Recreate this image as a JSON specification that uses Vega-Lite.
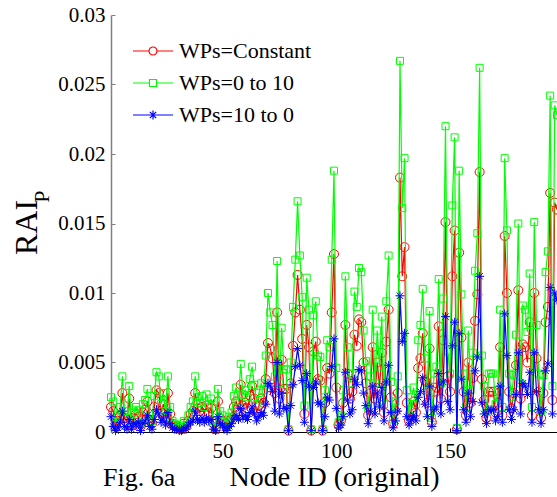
{
"$schema":"https://vega.github.io/schema/vega-lite/v6.json",
"width":446,"height":417,
"autosize":{"type":"none"},
"padding":{"left":111,"top":15,"right":0,"bottom":65},
"config":{"view":{"stroke":null},"font":"Liberation Serif","axis":{"labelFont":"Liberation Serif","titleFont":"Liberation Serif"},"legend":{"labelFont":"Liberation Serif"}},
"title":{"text":"Fig. 6a","orient":"bottom","anchor":"start","frame":"group","fontSize":26,"font":"Liberation Serif","fontWeight":"normal","color":"black","dx":-8,"offset":-26},
"data":{"values":[
{"n":1,"g":0.0025,"r":0.0018,"b":0.0011},{"n":2,"g":0.0022,"r":0.0015,"b":0.0004},{"n":3,"g":0.0006,"r":0.0004,"b":0.0001},{"n":4,"g":0.0012,"r":0.0008,"b":0.0003},{"n":5,"g":0.0018,"r":0.0012,"b":0.0007},{"n":6,"g":0.0040,"r":0.0028,"b":0.0015},{"n":7,"g":0.0015,"r":0.0010,"b":0.0004},{"n":8,"g":0.0010,"r":0.0007,"b":0.0002},{"n":9,"g":0.0033,"r":0.0024,"b":0.0009},{"n":10,"g":0.0008,"r":0.0005,"b":0.0002},
{"n":11,"g":0.0014,"r":0.0010,"b":0.0006},{"n":12,"g":0.0018,"r":0.0013,"b":0.0005},{"n":13,"g":0.0016,"r":0.0011,"b":0.0007},{"n":14,"g":0.0006,"r":0.0004,"b":0.0001},{"n":15,"g":0.0020,"r":0.0014,"b":0.0006},{"n":16,"g":0.0023,"r":0.0016,"b":0.0008},{"n":17,"g":0.0031,"r":0.0022,"b":0.0012},{"n":18,"g":0.0012,"r":0.0008,"b":0.0004},{"n":19,"g":0.0008,"r":0.0006,"b":0.0002},{"n":20,"g":0.0026,"r":0.0018,"b":0.0009},
{"n":21,"g":0.0043,"r":0.0030,"b":0.0016},{"n":22,"g":0.0040,"r":0.0028,"b":0.0013},{"n":23,"g":0.0020,"r":0.0014,"b":0.0007},{"n":24,"g":0.0028,"r":0.0020,"b":0.0010},{"n":25,"g":0.0015,"r":0.0010,"b":0.0005},{"n":26,"g":0.0040,"r":0.0028,"b":0.0014},{"n":27,"g":0.0018,"r":0.0013,"b":0.0006},{"n":28,"g":0.0008,"r":0.0006,"b":0.0003},{"n":29,"g":0.0006,"r":0.0004,"b":0.0002},{"n":30,"g":0.0005,"r":0.0004,"b":0.0002},
{"n":31,"g":0.0004,"r":0.0003,"b":0.0001},{"n":32,"g":0.0003,"r":0.0002,"b":0.0001},{"n":33,"g":0.0008,"r":0.0006,"b":0.0003},{"n":34,"g":0.0005,"r":0.0004,"b":0.0002},{"n":35,"g":0.0012,"r":0.0008,"b":0.0005},{"n":36,"g":0.0018,"r":0.0013,"b":0.0007},{"n":37,"g":0.0022,"r":0.0015,"b":0.0008},{"n":38,"g":0.0040,"r":0.0028,"b":0.0015},{"n":39,"g":0.0025,"r":0.0017,"b":0.0009},{"n":40,"g":0.0021,"r":0.0015,"b":0.0007},
{"n":41,"g":0.0026,"r":0.0018,"b":0.0010},{"n":42,"g":0.0018,"r":0.0013,"b":0.0007},{"n":43,"g":0.0027,"r":0.0019,"b":0.0010},{"n":44,"g":0.0020,"r":0.0014,"b":0.0008},{"n":45,"g":0.0024,"r":0.0017,"b":0.0009},{"n":46,"g":0.0008,"r":0.0006,"b":0.0002},{"n":47,"g":0.0003,"r":0.0002,"b":0.0001},{"n":48,"g":0.0031,"r":0.0022,"b":0.0011},{"n":49,"g":0.0015,"r":0.0010,"b":0.0006},{"n":50,"g":0.0012,"r":0.0008,"b":0.0005},
{"n":51,"g":0.0008,"r":0.0006,"b":0.0003},{"n":52,"g":0.0005,"r":0.0004,"b":0.0001},{"n":53,"g":0.0011,"r":0.0008,"b":0.0004},{"n":54,"g":0.0014,"r":0.0010,"b":0.0006},{"n":55,"g":0.0026,"r":0.0018,"b":0.0010},{"n":56,"g":0.0032,"r":0.0022,"b":0.0012},{"n":57,"g":0.0022,"r":0.0015,"b":0.0009},{"n":58,"g":0.0049,"r":0.0034,"b":0.0017},{"n":59,"g":0.0027,"r":0.0019,"b":0.0010},{"n":60,"g":0.0030,"r":0.0021,"b":0.0012},
{"n":61,"g":0.0025,"r":0.0017,"b":0.0009},{"n":62,"g":0.0038,"r":0.0026,"b":0.0014},{"n":63,"g":0.0047,"r":0.0033,"b":0.0018},{"n":64,"g":0.0034,"r":0.0024,"b":0.0013},{"n":65,"g":0.0020,"r":0.0014,"b":0.0008},{"n":66,"g":0.0028,"r":0.0019,"b":0.0011},{"n":67,"g":0.0035,"r":0.0024,"b":0.0014},{"n":68,"g":0.0030,"r":0.0021,"b":0.0012},{"n":69,"g":0.0055,"r":0.0038,"b":0.0020},{"n":70,"g":0.0100,"r":0.0064,"b":0.0035},
{"n":71,"g":0.0086,"r":0.0060,"b":0.0033},{"n":72,"g":0.0077,"r":0.0053,"b":0.0029},{"n":73,"g":0.0040,"r":0.0028,"b":0.0015},{"n":74,"g":0.0123,"r":0.0086,"b":0.0050},{"n":75,"g":0.0035,"r":0.0024,"b":0.0013},{"n":76,"g":0.0075,"r":0.0052,"b":0.0028},{"n":77,"g":0.0045,"r":0.0031,"b":0.0017},{"n":78,"g":0.0045,"r":0.0031,"b":0.0017},{"n":79,"g":0.0002,"r":0.0001,"b":0.0001},{"n":80,"g":0.0050,"r":0.0035,"b":0.0019},
{"n":81,"g":0.0090,"r":0.0062,"b":0.0034},{"n":82,"g":0.0124,"r":0.0086,"b":0.0047},{"n":83,"g":0.0166,"r":0.0113,"b":0.0060},{"n":84,"g":0.0127,"r":0.0088,"b":0.0048},{"n":85,"g":0.0097,"r":0.0067,"b":0.0037},{"n":86,"g":0.0019,"r":0.0013,"b":0.0007},{"n":87,"g":0.0111,"r":0.0077,"b":0.0042},{"n":88,"g":0.0088,"r":0.0061,"b":0.0033},{"n":89,"g":0.0002,"r":0.0001,"b":0.0001},{"n":90,"g":0.0084,"r":0.0058,"b":0.0032},
{"n":91,"g":0.0094,"r":0.0065,"b":0.0036},{"n":92,"g":0.0055,"r":0.0038,"b":0.0021},{"n":93,"g":0.0054,"r":0.0037,"b":0.0020},{"n":94,"g":0.0002,"r":0.0001,"b":0.0001},{"n":95,"g":0.0030,"r":0.0021,"b":0.0011},{"n":96,"g":0.0066,"r":0.0046,"b":0.0025},{"n":97,"g":0.0061,"r":0.0042,"b":0.0023},{"n":98,"g":0.0124,"r":0.0086,"b":0.0047},{"n":99,"g":0.0188,"r":0.0128,"b":0.0067},{"n":100,"g":0.0046,"r":0.0032,"b":0.0017},
{"n":101,"g":0.0007,"r":0.0005,"b":0.0003},{"n":102,"g":0.0012,"r":0.0008,"b":0.0005},{"n":103,"g":0.0030,"r":0.0021,"b":0.0011},{"n":104,"g":0.0112,"r":0.0077,"b":0.0043},{"n":105,"g":0.0061,"r":0.0042,"b":0.0023},{"n":106,"g":0.0035,"r":0.0024,"b":0.0013},{"n":107,"g":0.0042,"r":0.0029,"b":0.0016},{"n":108,"g":0.0101,"r":0.0070,"b":0.0038},{"n":109,"g":0.0090,"r":0.0062,"b":0.0034},{"n":110,"g":0.0118,"r":0.0081,"b":0.0045},
{"n":111,"g":0.0115,"r":0.0079,"b":0.0044},{"n":112,"g":0.0073,"r":0.0050,"b":0.0028},{"n":113,"g":0.0051,"r":0.0035,"b":0.0019},{"n":114,"g":0.0017,"r":0.0012,"b":0.0006},{"n":115,"g":0.0040,"r":0.0028,"b":0.0015},{"n":116,"g":0.0088,"r":0.0061,"b":0.0033},{"n":117,"g":0.0035,"r":0.0024,"b":0.0013},{"n":118,"g":0.0073,"r":0.0050,"b":0.0028},{"n":119,"g":0.0047,"r":0.0032,"b":0.0018},{"n":120,"g":0.0083,"r":0.0057,"b":0.0032},
{"n":121,"g":0.0020,"r":0.0014,"b":0.0008},{"n":122,"g":0.0094,"r":0.0065,"b":0.0036},{"n":123,"g":0.0127,"r":0.0088,"b":0.0048},{"n":124,"g":0.0036,"r":0.0025,"b":0.0014},{"n":125,"g":0.0009,"r":0.0006,"b":0.0003},{"n":126,"g":0.0022,"r":0.0015,"b":0.0008},{"n":127,"g":0.0040,"r":0.0028,"b":0.0015},{"n":128,"g":0.0267,"r":0.0183,"b":0.0098},{"n":129,"g":0.0161,"r":0.0112,"b":0.0065},{"n":130,"g":0.0197,"r":0.0133,"b":0.0071},
{"n":131,"g":0.0030,"r":0.0021,"b":0.0011},{"n":132,"g":0.0012,"r":0.0008,"b":0.0005},{"n":133,"g":0.0025,"r":0.0017,"b":0.0009},{"n":134,"g":0.0032,"r":0.0022,"b":0.0012},{"n":135,"g":0.0020,"r":0.0014,"b":0.0008},{"n":136,"g":0.0066,"r":0.0046,"b":0.0025},{"n":137,"g":0.0077,"r":0.0053,"b":0.0029},{"n":138,"g":0.0103,"r":0.0071,"b":0.0039},{"n":139,"g":0.0053,"r":0.0037,"b":0.0020},{"n":140,"g":0.0030,"r":0.0021,"b":0.0011},
{"n":141,"g":0.0087,"r":0.0060,"b":0.0033},{"n":142,"g":0.0010,"r":0.0007,"b":0.0004},{"n":143,"g":0.0042,"r":0.0029,"b":0.0016},{"n":144,"g":0.0047,"r":0.0032,"b":0.0018},{"n":145,"g":0.0110,"r":0.0076,"b":0.0042},{"n":146,"g":0.0035,"r":0.0024,"b":0.0013},{"n":147,"g":0.0096,"r":0.0066,"b":0.0036},{"n":148,"g":0.0220,"r":0.0151,"b":0.0083},{"n":149,"g":0.0058,"r":0.0040,"b":0.0022},{"n":150,"g":0.0042,"r":0.0029,"b":0.0016},
{"n":151,"g":0.0163,"r":0.0112,"b":0.0062},{"n":152,"g":0.0212,"r":0.0145,"b":0.0079},{"n":153,"g":0.0003,"r":0.0002,"b":0.0001},{"n":154,"g":0.0188,"r":0.0129,"b":0.0071},{"n":155,"g":0.0099,"r":0.0068,"b":0.0038},{"n":156,"g":0.0042,"r":0.0029,"b":0.0016},{"n":157,"g":0.0018,"r":0.0012,"b":0.0007},{"n":158,"g":0.0073,"r":0.0050,"b":0.0028},{"n":159,"g":0.0030,"r":0.0021,"b":0.0011},{"n":160,"g":0.0057,"r":0.0039,"b":0.0022},
{"n":161,"g":0.0116,"r":0.0080,"b":0.0044},{"n":162,"g":0.0143,"r":0.0099,"b":0.0054},{"n":163,"g":0.0262,"r":0.0187,"b":0.0112},{"n":164,"g":0.0055,"r":0.0038,"b":0.0021},{"n":165,"g":0.0033,"r":0.0023,"b":0.0013},{"n":166,"g":0.0015,"r":0.0010,"b":0.0006},{"n":167,"g":0.0042,"r":0.0029,"b":0.0016},{"n":168,"g":0.0042,"r":0.0029,"b":0.0016},{"n":169,"g":0.0042,"r":0.0029,"b":0.0016},{"n":170,"g":0.0020,"r":0.0014,"b":0.0008},
{"n":171,"g":0.0030,"r":0.0021,"b":0.0011},{"n":172,"g":0.0088,"r":0.0061,"b":0.0033},{"n":173,"g":0.0018,"r":0.0012,"b":0.0007},{"n":174,"g":0.0197,"r":0.0141,"b":0.0085},{"n":175,"g":0.0145,"r":0.0100,"b":0.0055},{"n":176,"g":0.0042,"r":0.0029,"b":0.0016},{"n":177,"g":0.0025,"r":0.0017,"b":0.0009},{"n":178,"g":0.0041,"r":0.0028,"b":0.0016},{"n":179,"g":0.0070,"r":0.0048,"b":0.0027},{"n":180,"g":0.0150,"r":0.0102,"b":0.0057},
{"n":181,"g":0.0035,"r":0.0024,"b":0.0013},{"n":182,"g":0.0091,"r":0.0063,"b":0.0035},{"n":183,"g":0.0088,"r":0.0061,"b":0.0033},{"n":184,"g":0.0072,"r":0.0050,"b":0.0027},{"n":185,"g":0.0114,"r":0.0079,"b":0.0043},{"n":186,"g":0.0018,"r":0.0012,"b":0.0007},{"n":187,"g":0.0151,"r":0.0100,"b":0.0057},{"n":188,"g":0.0077,"r":0.0053,"b":0.0029},{"n":189,"g":0.0042,"r":0.0029,"b":0.0016},{"n":190,"g":0.0015,"r":0.0010,"b":0.0006},
{"n":191,"g":0.0041,"r":0.0028,"b":0.0016},{"n":192,"g":0.0115,"r":0.0079,"b":0.0044},{"n":193,"g":0.0130,"r":0.0090,"b":0.0049},{"n":194,"g":0.0242,"r":0.0172,"b":0.0104},{"n":195,"g":0.0033,"r":0.0023,"b":0.0013},{"n":196,"g":0.0235,"r":0.0165,"b":0.0100},{"n":197,"g":0.0228,"r":0.0160,"b":0.0095}
]},
"encoding":{
"x":{"field":"n","type":"quantitative","scale":{"domain":[1,197],"nice":false,"zero":false},
"axis":{"values":[50,100,150],"title":"Node ID (original)","titleFontSize":28,"titleFont":"Liberation Serif","titleFontWeight":"normal","titleColor":"black","titlePadding":2,"labelFontSize":21,"labelFont":"Liberation Serif","labelColor":"black","labelPadding":12,"domainColor":"black","domainWidth":1,"tickColor":"black","tickSize":-4,"grid":false}}
},
"resolve":{"axis":{"y":"independent"}},
"layer":[
{"mark":{"type":"line","color":"#ff0000","strokeWidth":1.2},
"encoding":{
"y":{"field":"r","type":"quantitative","scale":{"domain":[0,0.03],"nice":false},
"axis":{"values":[0,0.005,0.01,0.015,0.02,0.025,0.03],"format":"~g","title":"RAI","titleFontSize":32,"titleFont":"Liberation Serif","titleFontWeight":"normal","titleColor":"black","titleAngle":-90,"titleX":-85,"titleY":212,"titleAlign":"center","titleBaseline":"middle","labelFontSize":21,"labelFont":"Liberation Serif","labelColor":"black","labelPadding":10,"domainColor":"#808080","domainWidth":1.5,"tickColor":"#808080","tickSize":-4,"grid":false}},
"color":{"datum":"WPs=Constant","type":"nominal","scale":{"domain":["WPs=Constant","WPs=0 to 10","WPs=10 to 0"],"range":["#ff0000","#00ff00","#0000ff"]},
"legend":{"title":null,"orient":"none","legendX":31,"legendY":25,"padding":0,"labelFontSize":22,"labelFont":"Liberation Serif","labelColor":"black","symbolSize":400,"labelOffset":15,"rowPadding":10,"symbolStrokeWidth":1.2,
"encode":{"symbols":{"update":{"shape":{"signal":"datum.value === 'WPs=Constant' ? 'M-2,0H-0.4M0.4,0H2M-0.4,0A0.4,0.4,0,1,1,0.4,0A0.4,0.4,0,1,1,-0.4,0' : datum.value === 'WPs=0 to 10' ? 'M-2,0H-0.35M0.35,0H2M-0.35,-0.35H0.35V0.35H-0.35Z' : 'M-2,0H2M0,-0.45V0.45M-0.32,-0.32L0.32,0.32M-0.32,0.32L0.32,-0.32'"},"fill":{"value":"transparent"},"strokeWidth":{"value":1.2}}}}}}
}},
{"mark":{"type":"point","shape":"circle","size":81,"filled":false,"strokeWidth":1,"opacity":1},
"encoding":{
"y":{"field":"r","type":"quantitative","scale":{"domain":[0,0.03],"nice":false},
"axis":{"orient":"right","title":"P","titleFontSize":22,"titleFont":"Liberation Serif","titleFontWeight":"normal","titleColor":"black","titleAngle":-90,"titleX":-516,"titleY":181,"titleAlign":"center","titleBaseline":"middle","domain":false,"ticks":false,"labels":false,"grid":false}},
"color":{"datum":"WPs=Constant","type":"nominal"}
}},
{"mark":{"type":"line","strokeWidth":1.2},
"encoding":{"y":{"field":"g","type":"quantitative","scale":{"domain":[0,0.03],"nice":false},"axis":null},
"color":{"datum":"WPs=0 to 10","type":"nominal"}}},
{"mark":{"type":"point","shape":"square","size":49,"filled":false,"strokeWidth":1,"opacity":1},
"encoding":{"y":{"field":"g","type":"quantitative","scale":{"domain":[0,0.03],"nice":false},"axis":null},
"color":{"datum":"WPs=0 to 10","type":"nominal"}}},
{"mark":{"type":"line","strokeWidth":1.2},
"encoding":{"y":{"field":"b","type":"quantitative","scale":{"domain":[0,0.03],"nice":false},"axis":null},
"color":{"datum":"WPs=10 to 0","type":"nominal"}}},
{"mark":{"type":"point","shape":"M-1,0H1M0,-1V1M-0.7,-0.7L0.7,0.7M-0.7,0.7L0.7,-0.7","size":81,"filled":false,"strokeWidth":1,"opacity":1},
"encoding":{"y":{"field":"b","type":"quantitative","scale":{"domain":[0,0.03],"nice":false},"axis":null},
"color":{"datum":"WPs=10 to 0","type":"nominal"}}}
]
}
